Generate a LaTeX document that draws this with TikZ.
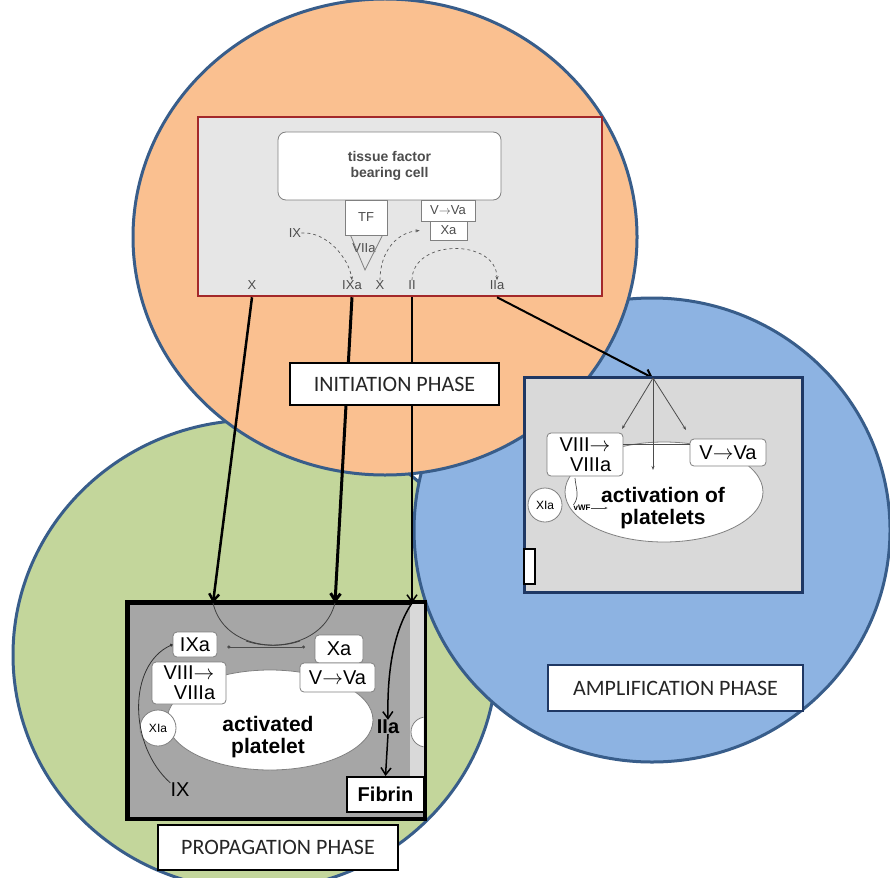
\documentclass[tikz,border=0pt]{standalone}
\usepackage{fontspec}
\setmainfont{Liberation Sans}
\newfontfamily\phasefont{Carlito}
\usetikzlibrary{arrows.meta, shapes.geometric}
\definecolor{orangefill}{HTML}{FAC090}
\definecolor{greenfill}{HTML}{C3D69B}
\definecolor{bluefill}{HTML}{8DB3E2}
\definecolor{zoneline}{HTML}{385D8A}
\definecolor{initred}{HTML}{A3282A}
\definecolor{initgray}{HTML}{E6E6E6}
\definecolor{ampgray}{HTML}{D9D9D9}
\definecolor{ampline}{HTML}{1F3864}
\definecolor{propgray}{HTML}{A6A6A6}
\definecolor{softtext}{HTML}{4D4D4D}

\begin{document}
\begin{tikzpicture}[x=1pt, y=-1pt, >={Straight Barb[length=7pt,width=10pt]},
	zone/.style={ellipse, draw=zoneline, line width=3pt, inner sep=0pt},
	phasebox/.style={draw=black, line width=2.5pt, fill=white, inner sep=0pt, text=black!85, font=\phasefont\fontsize{22}{24}\selectfont},
	tbox/.style={draw=gray, fill=white, inner sep=0pt, line width=0.8pt},
	tiny/.style={inner sep=0pt, text=softtext, font=\fontsize{13}{15}\selectfont},
	mid/.style={inner sep=0pt, font=\fontsize{20}{20}\selectfont},
	blob/.style={ellipse, draw=gray, fill=white, line width=0.8pt, inner sep=0pt},
	xia/.style={circle, draw=gray, fill=white, line width=0.8pt, inner sep=0pt, font=\fontsize{12}{12}\selectfont}]
	\useasboundingbox (0,0) rectangle (890,877);
	\fill[white] (0,0) rectangle (890,877);
	\clip (0,0) rectangle (890,877);

	\node[zone, fill=greenfill, minimum width=484pt, minimum height=470pt] (propzone) at (255,655) {};
	\node[zone, fill=bluefill, minimum width=476pt, minimum height=464pt] (ampzone) at (652,530) {};
	\node[zone, fill=orangefill, minimum width=504pt, minimum height=476pt] (initzone) at (385,237) {};

	\node[draw=initred, fill=initgray, line width=2.5pt, minimum width=404pt, minimum height=179pt] (initbox) at (400,206.5) {};
	\node[tbox, rounded corners=8pt, minimum width=223pt, minimum height=68pt, align=center, text=softtext, font=\bfseries\fontsize{14}{16}\selectfont] (cell) at (389.5,166) {tissue factor\\bearing cell};
	\node[tbox, tiny, minimum width=42pt, minimum height=35pt] (tf) at (366,217.5) {TF};
	\node[tiny] (viia) at (364,248) {VIIa};
	\node[tbox, tiny, minimum width=54pt, minimum height=21pt] (vva1) at (448,210.5) {V$\rightarrow$Va};
	\node[tbox, tiny, minimum width=37pt, minimum height=19pt] (xa1) at (448.5,230.5) {Xa};
	\node[tiny] (ix1) at (295,233) {IX};
	\node[tiny] (x1) at (252,285) {X};
	\node[tiny] (ixa1) at (352,285) {IXa};
	\node[tiny] (x2) at (380,285) {X};
	\node[tiny] (ii1) at (412,285) {II};
	\node[tiny] (iia1) at (497,285) {IIa};
	\draw[gray, line width=0.8pt] ([xshift=6pt]tf.south west) -- (365,270) -- ([xshift=-5pt]tf.south east);
	\draw[gray!70!black, line width=0.7pt, dashed, -{Stealth[length=4pt]}] (ix1.east) .. controls +(25,-2) and +(-3,-22) .. (ixa1.north);
	\draw[gray!70!black, line width=0.7pt, dashed, -{Stealth[length=4pt]}] (x2.north) .. controls +(0,-30) and +(-22,2) .. ([xshift=-10pt]xa1.west);
	\draw[gray!70!black, line width=0.7pt, dashed, -{Stealth[length=4pt]}] (ii1.north) .. controls +(0,-42) and +(0,-42) .. (iia1.north);

	\coordinate (pin1) at (213,603);
	\coordinate (pin2) at (335,603);
	\coordinate (pin3) at (412,603);
	\coordinate (ampin) at (653,378);
	\draw[->, line width=2.5pt] (x1 |- initbox.south) -- (pin1);
	\draw[->, line width=3pt] (ixa1 |- initbox.south) -- (pin2);
	\draw[->, line width=1.5pt] (ii1 |- initbox.south) -- (pin3);
	\draw[->, line width=2pt] (iia1 |- initbox.south) -- (ampin);

	\node[phasebox, minimum width=209pt, minimum height=42pt] (initlabel) at (394.5,384) {INITIATION PHASE};

	\node[draw=ampline, fill=ampgray, line width=3pt, minimum width=278pt, minimum height=215pt] (ampbox) at (663,484.5) {};
	\node[blob, minimum width=198pt, minimum height=100pt] (ampcell) at (664,492) {};
	\node[inner sep=0pt, align=center, font=\bfseries\fontsize{21}{22}\selectfont] (amptext) at (663,508) {activation of\\platelets};
	\node[tbox, mid, rounded corners=4pt, minimum width=76pt, minimum height=43pt, align=center] (viii2) at (585,454.5) {VIII$\rightarrow$\\\ \ VIIIa};
	\node[tbox, mid, rounded corners=4pt, minimum width=76pt, minimum height=27pt] (vva2) at (728,452.5) {V$\rightarrow$Va};
	\draw[gray!60!black, line width=0.8pt] (viii2.east |- 0,444) -- (vva2.west |- 0,444);
	\node[xia, minimum size=34pt] (xia2) at (545,505) {XIa};
	\node[inner sep=0pt, font=\bfseries\fontsize{8}{8}\selectfont] (vwf) at (582,508) {vWF};
	\draw[gray!60!black, line width=0.7pt, -{Stealth[length=3pt]}] (vwf.east) -- +(17,0);
	\draw[gray!60!black, line width=0.7pt] (575,478) .. controls (576,490) and (580,496) .. (vwf.north west);
	\coordinate (amp1) at (622,429);
	\coordinate (amp2) at (653,470);
	\coordinate (amp3) at (686,430);
	\foreach \t in {amp1,amp2,amp3} {\draw[gray!60!black, line width=0.8pt, -{Stealth[length=4pt]}] (ampin) -- (\t);}
	\node[draw=black, fill=white, line width=2pt, minimum width=11pt, minimum height=35pt] (ampstub) at (529.5,566.5) {};

	\node[phasebox, draw=ampline, minimum width=255pt, minimum height=46pt] (amplabel) at (675.5,688) {AMPLIFICATION PHASE};

	\node[draw=black, fill=propgray, line width=3pt, minimum width=296pt, minimum height=215pt] (propbox) at (276,710.5) {};
	\node[fill=ampgray, minimum width=14pt, minimum height=172pt, inner sep=0pt] (strip) at (416.5,690) {};
	\begin{scope}
		\clip (strip.north west) rectangle (strip.south east);
		\draw[gray, fill=white, line width=0.8pt] (426,732) circle (15);
	\end{scope}
	\draw[black, line width=3pt] (propbox.north west) rectangle (propbox.south east);
	\node[blob, minimum width=206pt, minimum height=100pt] (propcell) at (270,720) {};
	\node[inner sep=0pt, align=center, font=\bfseries\fontsize{21}{22}\selectfont] (proptext) at (268,737) {activated\\platelet};
	\node[tbox, mid, rounded corners=4pt, minimum width=44pt, minimum height=25pt] (ixa3) at (195,644.5) {IXa};
	\node[tbox, mid, rounded corners=4pt, minimum width=74pt, minimum height=42pt, align=center] (viii3) at (189,683) {VIII$\rightarrow$\\\ \ VIIIa};
	\node[tbox, mid, rounded corners=4pt, minimum width=48pt, minimum height=28pt] (xa3) at (339,649) {Xa};
	\node[tbox, mid, rounded corners=4pt, minimum width=75pt, minimum height=29pt] (vva3) at (337.5,677.5) {V$\rightarrow$Va};
	\node[xia, minimum size=36pt] (xia3) at (158,728) {XIa};
	\node[mid] (ix3) at (180,790) {IX};
	\node[mid, font=\bfseries\fontsize{20}{20}\selectfont] (iia3) at (388,727) {IIa};
	\node[draw=black, fill=white, line width=2pt, minimum width=77pt, minimum height=35pt, inner sep=0pt, font=\bfseries\fontsize{20}{20}\selectfont] (fibrin) at (385.5,794.5) {Fibrin};
	\draw[black!75, line width=0.8pt] (pin1) .. controls (222,642) and (268,652) .. (300,641);
	\draw[black!75, line width=0.8pt] (pin2) .. controls (325,642) and (278,652) .. (246,641);
	\draw[black!70, line width=0.8pt, {Circle[length=3pt]}-{Circle[length=3pt]}] (ixa3.east |- 0,647) ++(10,0) -- (305,647);
	\draw[black!80, line width=0.8pt, -{Circle[length=3pt]}] (ix3.north west) .. controls (128,745) and (128,665) .. (ixa3.west);
	\draw[->, line width=1.5pt] (pin3) .. controls (394,630) and (387,670) .. (iia3.north);
	\draw[->, line width=1.5pt] (iia3.south) -- (fibrin.north);

	\node[phasebox, minimum width=240pt, minimum height=45pt] (proplabel) at (278,847.5) {PROPAGATION PHASE};
\end{tikzpicture}
\end{document}
